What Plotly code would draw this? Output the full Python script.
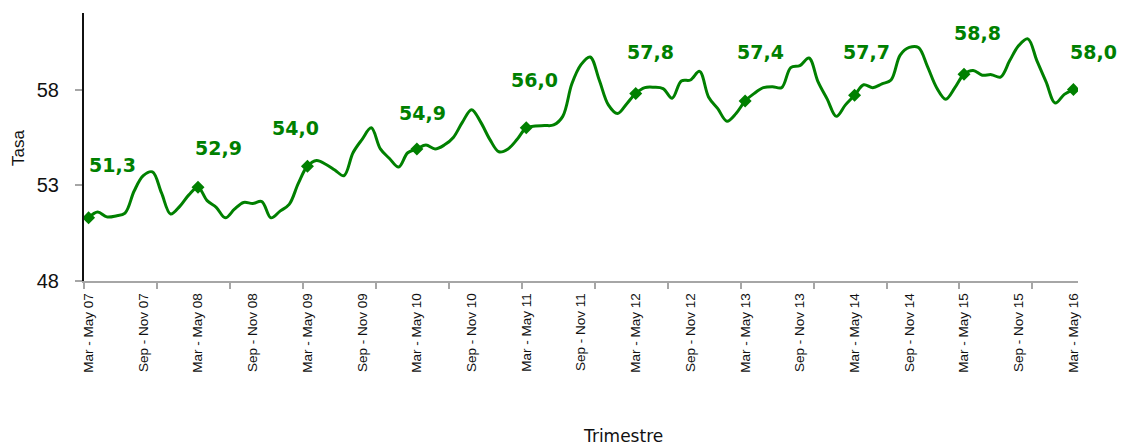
import plotly.graph_objects as go

# ---- data ----
months = ["Ene", "Feb", "Mar", "Abr", "May", "Jun", "Jul", "Ago", "Sep", "Oct", "Nov", "Dic"]
start_year = 2007
n_points = 109

categories = []
for k in range(n_points):
    m0 = (2 + k) % 12
    m2 = (m0 + 2) % 12
    yr = start_year + (2 + k) // 12
    categories.append(f"{months[m0]} - {months[m2]} {yr % 100:02d}")

tasa = [
    51.3, 51.6, 51.35, 51.4, 51.55, 52.7, 53.5, 53.7, 52.6, 51.5, 51.9, 52.5,
    52.9, 52.2, 51.85, 51.3, 51.75, 52.1, 52.05, 52.15, 51.3, 51.65, 52.0, 53.1,
    54.0, 54.3, 54.1, 53.8, 53.5, 54.7, 55.4, 56.0, 54.9, 54.4, 53.95, 54.7,
    54.9, 55.1, 54.9, 55.1, 55.5, 56.3, 56.95, 56.3, 55.4, 54.75, 54.9, 55.4,
    56.0, 56.1, 56.12, 56.15, 56.6, 58.3, 59.3, 59.7, 58.5, 57.2, 56.75, 57.25,
    57.8, 58.1, 58.12, 58.05, 57.55, 58.45, 58.5, 58.95, 57.6, 57.0, 56.35, 56.75,
    57.4, 57.8, 58.1, 58.15, 58.1, 59.15, 59.25, 59.65, 58.4, 57.5, 56.6, 57.2,
    57.7, 58.25, 58.1, 58.3, 58.5, 59.8, 60.2, 60.2, 59.2, 58.1, 57.5, 58.1,
    58.8, 59.0, 58.75, 58.78, 58.65, 59.5, 60.3, 60.65, 59.5, 58.4, 57.3, 57.75,
    58.0,
]

label_idx = list(range(0, n_points, 12))          # Mar - May of each year
tick_idx = list(range(0, n_points, 6))            # Mar - May and Sep - Nov
tick_text = [categories[i] for i in tick_idx]
mark_vals = [-0.5 + 8 * k for k in range(14)]     # category-axis tick marks
y_ticks = [48, 53, 58]

# label offsets (px) relative to each marker: (dx, dy up)
label_shift = [(24, 53), (21, 39), (-12, 38), (6, 36), (8, 48),
               (15, 41), (15, 49), (12, 43), (13, 41), (20, 38)]

GREEN = "#008000"
x = list(range(n_points))

fig = go.Figure()
fig.add_trace(go.Scatter(
    x=x, y=tasa, mode="lines",
    line=dict(color=GREEN, width=3, shape="spline", smoothing=1.0),
    hoverinfo="skip", showlegend=False,
))
fig.add_trace(go.Scatter(
    x=label_idx, y=[tasa[i] for i in label_idx], mode="markers",
    marker=dict(symbol="diamond", size=10, color=GREEN),
    showlegend=False,
))

for (i, (dx, dy)) in zip(label_idx, label_shift):
    fig.add_annotation(
        x=i, y=tasa[i], xref="x", yref="y",
        text=f"{tasa[i]:.1f}".replace(".", ","),
        showarrow=False, xshift=dx, yshift=dy,
        font=dict(family="DejaVu Sans", size=19, color=GREEN, weight="bold"),
    )

fig.add_annotation(
    text="Tasa", xref="paper", yref="paper", x=-0.0664, y=0.496,
    xanchor="center", yanchor="middle",
    textangle=-90, showarrow=False,
    font=dict(family="Liberation Sans, Arial", size=17, color="#111111"),
)
fig.add_annotation(
    text="Trimestre", xref="paper", yref="paper", x=0.542, y=-0.58,
    showarrow=False, xanchor="center", yanchor="middle",
    font=dict(family="DejaVu Sans", size=17, color="#111111"),
)

fig.update_layout(
    width=1124, height=447,
    margin=dict(l=84, r=46, t=13, b=166),
    paper_bgcolor="white", plot_bgcolor="white",
    showlegend=False,
    xaxis=dict(
        range=[-0.5, n_points - 0.5],
        tickvals=tick_idx, ticktext=tick_text, tickangle=-90,
        ticks="outside", ticklen=5, tickcolor="rgba(0,0,0,0)",
        showgrid=False, zeroline=False,
        showline=True, linecolor="#A6A6A6", linewidth=1.5,
        tickfont=dict(family="Liberation Sans, Arial", size=13.5, color="#111111"),
        minor=dict(tickvals=mark_vals, ticks="outside", ticklen=6,
                   tickcolor="#A6A6A6", tickwidth=1.5, showgrid=False),
    ),
    yaxis=dict(
        range=[48, 62], tickvals=y_ticks,
        ticks="outside", ticklen=7, tickcolor="#A6A6A6", tickwidth=1.5,
        ticklabelstandoff=12,
        showgrid=False, zeroline=False,
        showline=True, linecolor="#111111", linewidth=2,
        tickfont=dict(family="Liberation Sans, Arial", size=20, color="#111111"),
    ),
)

fig.write_html("out.html", config={"displayModeBar": False},
               post_script="document.body.style.margin='0';")
